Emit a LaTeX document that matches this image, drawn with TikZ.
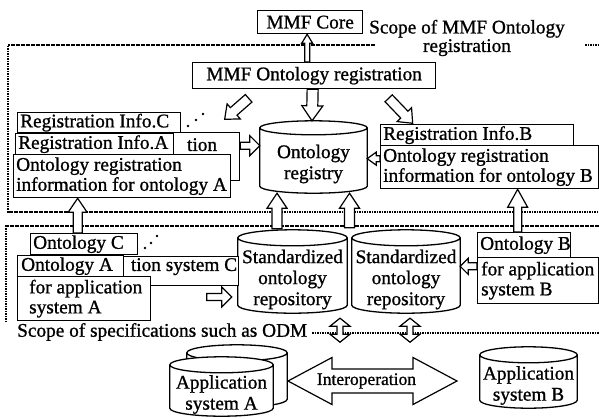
\documentclass[tikz,border=0pt]{standalone}
\usepackage{fontspec}
\setmainfont{Liberation Serif}[FakeBold=1]
\usetikzlibrary{calc,backgrounds}

\tikzset{
  lbl/.style={font=\fontsize{19.3}{20}\selectfont, inner sep=0pt},
  bx/.style={draw, fill=white, line width=1.3pt, inner sep=0pt, anchor=north west},
  cylnode/.style={inner sep=0pt, align=center, font=\fontsize{19.3}{21}\selectfont},
  cylline/.style={draw, fill=white, line width=1.3pt},
  blk/.style={draw, fill=white, line width=1.2pt, line join=miter},
  scopeline/.style={line width=1.1pt, dash pattern=on 1.6pt off 0.9pt},
}

% vertical cylinder drawn round a node; #2 = half height of the end ellipses
\newcommand\cylshape[2]{%
  \begin{pgfonlayer}{background}
  \draw[cylline] let \p1=(#1.north west), \p2=(#1.south east), \n1={(\x2-\x1)/2} in
    (\x1,\y1+#2pt) -- (\x1,\y2+#2pt)
    arc[start angle=180, end angle=360, x radius=\n1, y radius=#2pt]
    -- (\x2,\y1+#2pt)
    arc[start angle=0, end angle=180, x radius=\n1, y radius=#2pt] -- cycle
    (\x1,\y1+#2pt) arc[start angle=180, end angle=360, x radius=\n1, y radius=#2pt];
  \end{pgfonlayer}}

% hollow block arrow: from, to, shaft half width, head half width, head length
\newcommand\blockarrow[6][]{%
  \coordinate (ba-s) at #2;
  \coordinate (ba-e) at #3;
  \coordinate (ba-h) at ($(ba-e)!#6pt!(ba-s)$);
  \draw[blk,#1] ($(ba-s)!#4pt!90:(ba-e)$) -- ($(ba-h)!#4pt!90:(ba-e)$)
    -- ($(ba-h)!#5pt!90:(ba-e)$) -- (ba-e) -- ($(ba-h)!#5pt!-90:(ba-e)$)
    -- ($(ba-h)!#4pt!-90:(ba-e)$) -- ($(ba-s)!#4pt!-90:(ba-e)$) -- cycle;
}

% hollow block arrow with a head at both ends
\newcommand\dblockarrow[6][]{%
  \coordinate (ba-s) at #2;
  \coordinate (ba-e) at #3;
  \coordinate (ba-h) at ($(ba-e)!#6pt!(ba-s)$);
  \coordinate (ba-g) at ($(ba-s)!#6pt!(ba-e)$);
  \draw[blk,#1] (ba-s) -- ($(ba-g)!#5pt!90:(ba-e)$) -- ($(ba-g)!#4pt!90:(ba-e)$)
    -- ($(ba-h)!#4pt!90:(ba-e)$) -- ($(ba-h)!#5pt!90:(ba-e)$) -- (ba-e)
    -- ($(ba-h)!#5pt!-90:(ba-e)$) -- ($(ba-h)!#4pt!-90:(ba-e)$)
    -- ($(ba-g)!#4pt!-90:(ba-e)$) -- ($(ba-g)!#5pt!-90:(ba-e)$) -- cycle;
}

\begin{document}
\begin{tikzpicture}[x=1pt, y=-1pt]
\useasboundingbox (0,0) rectangle (599,418);

% dotted scope frames
\draw[scopeline] (375,45) -- (8,45) -- (8,212) -- (599,212);
\draw[scopeline] (585,45) -- (599,45);
\draw[scopeline] (599,226) -- (6,226) -- (6,322);
\draw[scopeline] (312,333) -- (599,333);
\node[lbl, align=center, font=\fontsize{19.3}{18.5}\selectfont] (scopereg) at (467,38) {Scope of MMF Ontology\\registration};
\node[lbl, anchor=west] (scopeodm) at (17,332) {Scope of specifications such as ODM};

% MMF core and registration
\node[bx, lbl, minimum width=105, minimum height=23] (core) at (257,10) {MMF Core};
\node[bx, lbl, minimum width=243, minimum height=26] (reg) at (192,62) {MMF Ontology registration};

% registration information, ontologies C and A
\node[bx, minimum width=199, minimum height=48] (infoCbody) at (40,132) {};
\node[lbl, anchor=east] (infoCtail) at ([xshift=-23pt, yshift=12pt]infoCbody.east) {tion};
\node[bx, minimum width=163, minimum height=20] (infoC) at (17,112) {};
\node[lbl, anchor=west] (infoCt) at ([xshift=3pt]infoC.west) {Registration Info.C};
\node[bx, minimum width=158, minimum height=21] (infoA) at (15,133) {};
\node[lbl, anchor=west] (infoAt) at ([xshift=3pt]infoA.west) {Registration Info.A};
\node[bx, minimum width=217, minimum height=43] (infoAbody) at (13,154) {};
\node[lbl, anchor=west, align=left] (infoAbodyt) at ([xshift=3pt]infoAbody.west) {Ontology registration\\information for ontology A};

% registration information, ontology B
\node[bx, minimum width=193, minimum height=21] (infoB) at (380,124) {};
\node[lbl, anchor=west] (infoBt) at ([xshift=3pt]infoB.west) {Registration Info.B};
\node[bx, minimum width=218, minimum height=43] (infoBbody) at (380,145) {};
\node[lbl, anchor=west, align=left] (infoBbodyt) at ([xshift=3pt]infoBbody.west) {Ontology registration\\information for ontology B};

% ontologies C and A
\node[bx, minimum width=107, minimum height=21] (ontC) at (30,233) {};
\node[lbl, anchor=west] (ontCt) at ([xshift=3pt]ontC.west) {Ontology C};
\node[bx, minimum width=198, minimum height=29] (sysC) at (40,256) {};
\node[lbl, anchor=east] (sysCt) at ([xshift=-2pt, yshift=4.5pt]sysC.east) {tion system C};
\node[bx, minimum width=106, minimum height=21] (ontA) at (17,255) {};
\node[lbl, anchor=west] (ontAt) at ([xshift=4pt]ontA.west) {Ontology A};
\node[bx, minimum width=133, minimum height=44] (sysA) at (17,276) {};
\node[lbl, anchor=west, align=left] (sysAt) at ([xshift=12pt]sysA.west) {for application\\system A};

% ontology B
\node[bx, minimum width=93, minimum height=25] (ontB) at (477,232) {};
\node[lbl, anchor=west] (ontBt) at ([xshift=3pt]ontB.west) {Ontology B};
\node[bx, minimum width=121, minimum height=46] (sysB) at (477,257) {};
\node[lbl, anchor=west, align=left] (sysBt) at ([xshift=4pt]sysB.west) {for application\\system B};

% stores
\node[cylnode, minimum width=107, minimum height=58] (registry) at (313.5,164) {Ontology\\registry};
\node[cylnode, minimum width=109, minimum height=67] (repoL) at (292.5,279.5) {Standardized\\ontology\\repository};
\node[cylnode, minimum width=108, minimum height=67] (repoR) at (406,279.5) {Standardized\\ontology\\repository};
\node[cylnode, minimum width=97, minimum height=45] (appB) at (528.5,385.5) {Application\\system B};
\node[cylnode, minimum width=100, minimum height=46] (appAback) at (237,384) {};
\node[cylnode, minimum width=103, minimum height=43] (appA) at (221.5,394.5) {Application\\system A};
\cylshape{registry}{7}
\cylshape{repoL}{8}
\cylshape{repoR}{8}
\cylshape{appB}{8}
\cylshape{appAback}{8}
\cylshape{appA}{8}

% dots marking further entries
\fill (188,126) circle[radius=1.4pt] (196,120) circle[radius=1.4pt] (203,114) circle[radius=1.4pt];
\fill (145,248) circle[radius=1.4pt] (151,243) circle[radius=1.4pt] (157,236) circle[radius=1.4pt];

% block arrows
\blockarrow{([xshift=-7pt]reg.north)}{([xshift=-3pt]core.south)}{2.5}{5.5}{9}
\blockarrow{([xshift=-1.5pt]reg.south)}{([xshift=-1.5pt, yshift=14pt]registry.north)}{5.5}{10.5}{15}
\blockarrow{([shift={(-65.5pt,-9pt)}]reg.south)}{([shift={(-89.5pt,-30pt)}]reg.south)}{5}{10}{12}
\blockarrow{([shift={(74.5pt,-9pt)}]reg.south)}{([shift={(98.5pt,-34pt)}]reg.south)}{5}{10}{12}
\blockarrow{([yshift=11pt]infoCbody.east)}{(registry.west |- ba-s)}{3.5}{10}{10}
\blockarrow{([yshift=8.5pt]infoBbody.west)}{(registry.east |- ba-s)}{3}{6.5}{9}
\blockarrow{([xshift=-6.5pt]ontC.north)}{(infoAbody.south -| ba-s)}{4.5}{9.5}{14}
\blockarrow{([xshift=-15.5pt, yshift=17pt]repoL.north)}{(registry.south -| ba-s)}{5}{10}{15}
\coordinate (repogap) at ($(repoL.north east)!.5!(repoR.north west)$);
\blockarrow{([yshift=18pt]repogap)}{(registry.south -| ba-s)}{5}{10}{15}
\blockarrow{([xshift=-6.5pt]ontB.north)}{(infoBbody.south -| ba-s)}{4}{10}{18}
\blockarrow{([shift={(-31pt,-17.5pt)}]repoL.west)}{([shift={(-6pt,-17.5pt)}]repoL.west)}{3.5}{10}{10}
\blockarrow{([yshift=-8pt]ontB.south west)}{(repoR.east |- ba-s)}{3.5}{8}{8}
\dblockarrow{([shift={(47.5pt,-5pt)}]repoL.south)}{([shift={(47.5pt,-29pt)}]repoL.south)}{3}{10}{8}
\dblockarrow{([shift={(4pt,-5pt)}]repoR.south)}{([shift={(4pt,-29pt)}]repoR.south)}{3}{10}{8}

% interoperation between the application systems
\coordinate (io) at (372.5,381);
\dblockarrow{([xshift=-84.5pt]io)}{([xshift=84.5pt]io)}{12}{23.5}{44}
\node[lbl, font=\fontsize{17.5}{20}\selectfont] (interop) at ([xshift=-6pt]io) {Interoperation};
\end{tikzpicture}
\end{document}
